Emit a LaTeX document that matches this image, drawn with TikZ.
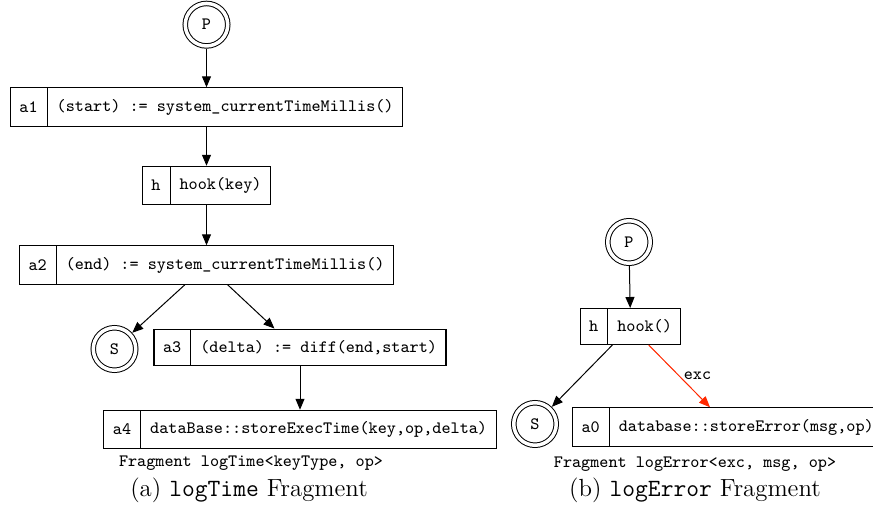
\documentclass[tikz,border=0pt]{standalone}
\usepackage{fontspec}
\usetikzlibrary{arrows.meta}
\usetikzlibrary{calc}
\usetikzlibrary{shapes.multipart}
\definecolor{excred}{RGB}{255,40,0}
\tikzset{
	term/.style={circle, draw, double, double distance=1.75pt, line width=0.5pt, minimum size=21.25pt, inner sep=0pt, outer sep=1.4pt, font=\ttfamily\fontsize{8.67}{10}\selectfont},
	act/.style={rectangle split, rectangle split horizontal, rectangle split parts=2, draw, line width=0.55pt, inner xsep=4.5pt, inner ysep=5.6pt, font=\ttfamily\fontsize{8.67}{10}\selectfont},
	flow/.style={-{Triangle[length=5.5pt,width=4.5pt]}, line width=0.5pt},
	excflow/.style={flow, draw=excred, fill=excred},
	note/.style={font=\ttfamily\fontsize{8.67}{10}\selectfont},
	subcap/.style={font=\fontsize{12.4}{14}\selectfont}
}
\begin{document}
\begin{tikzpicture}[x=0.5pt, y=-0.5pt]
		\useasboundingbox (0,0) rectangle (873,519);
		% (a) logTime
		\node[term] (p1) at (206.5,24.7) {P};
		\node[act] (a1) at (206.5,107) {a1\nodepart{two}(start) := system\_currentTimeMillis()};
		\node[act] (h1) at (206.5,185.5) {h\nodepart{two}hook(key)};
		\node[act] (a2) at (206.5,265) {a2\nodepart{two}(end) := system\_currentTimeMillis()};
		\node[term] (s1) at (114.5,349) {S};
		\node[act] (a3) at (300,347.5) {a3\nodepart{two}(delta) := diff(end,start)};
		\node[act] (a4) at (300,429.5) {a4\nodepart{two}dataBase::storeExecTime(key,op,delta)};
		\node[note] (f1) at (251,463.5) {Fragment logTime<keyType, op>};
		\node[subcap] (c1) at (249,490) {(a) \texttt{logTime} Fragment};
		\draw[flow] (p1) -- (a1);
		\draw[flow] (a1) -- (h1);
		\draw[flow] (h1) -- (a2);
		\draw[flow] (a2) -- (s1);
		\draw[flow] (a2) -- ($(a3.north west)+(121,0)$);
		\draw[flow] (a3) -- (a4);
		% (b) logError
		\node[term] (p2) at (629,242) {P};
		\node[act] (h2) at (630.5,326.5) {h\nodepart{two}hook()};
		\node[term] (s2) at (535,424) {S};
		\node[act, anchor=west] (a0) at (572,427) {a0\nodepart{two}database::storeError(msg,op)};
		\node[note] (f2) at (695,464) {Fragment logError<exc, msg, op>};
		\node[subcap] (c2) at (695,490) {(b) \texttt{logError} Fragment};
		\draw[flow] (p2) -- (h2);
		\draw[flow] (h2) -- (s2);
		\draw[excflow] (h2) -- node[right, inner sep=2pt, note] {exc} ($(a0.north west)+(138,0)$);
	\end{tikzpicture}
\end{document}
